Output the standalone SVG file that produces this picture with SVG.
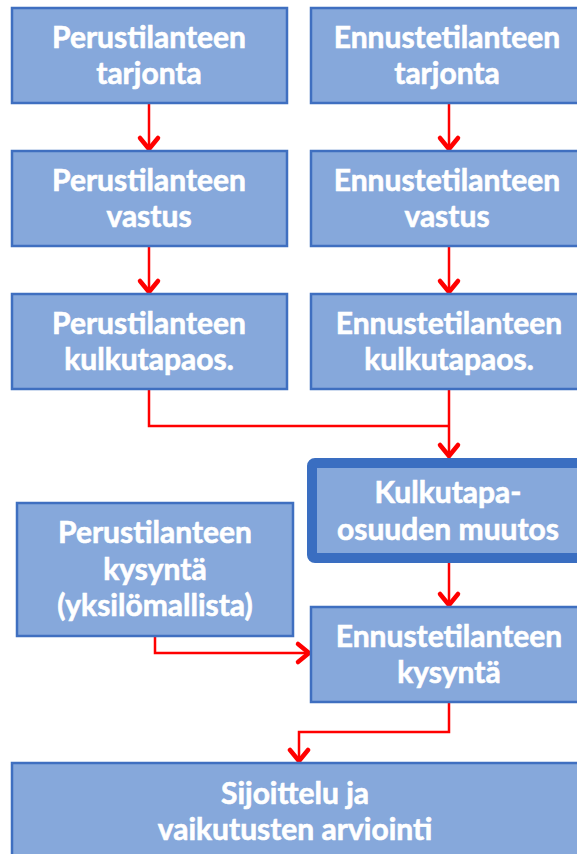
<svg xmlns="http://www.w3.org/2000/svg" width="577" height="854" viewBox="0 0 577 854">
<style>
.box{fill:#86A8DB;stroke:#3F6FC0;stroke-width:2.5}
.thick{fill:#86A8DB;stroke:#3A6EC1;stroke-width:10}
.t{font-family:Lato,"Open Sans","Liberation Sans",sans-serif;font-weight:bold;font-size:30px;fill:#FFFFFF;stroke:#FFFFFF;stroke-width:0.6;text-anchor:middle}
.c{fill:none;stroke:#FF0000;stroke-width:2.5}
</style>
<defs>
<marker id="ah" markerUnits="userSpaceOnUse" markerWidth="30" markerHeight="30" viewBox="-16 -15 20 30" refX="0" refY="0" orient="auto">
<path d="M-13,-9 L-2,0 L-13,9" fill="none" stroke="#FF0000" stroke-width="4.5" stroke-linecap="round" stroke-linejoin="round"/>
</marker>
</defs>
<rect width="577" height="854" fill="#FFFFFF"/>
<g id="connectors">
<path class="c" d="M149,103 V151" marker-end="url(#ah)"/>
<path class="c" d="M449,103 V151" marker-end="url(#ah)"/>
<path class="c" d="M149,246 V294" marker-end="url(#ah)"/>
<path class="c" d="M449,246 V294" marker-end="url(#ah)"/>
<path class="c" d="M149,389 V426 H449"/>
<path class="c" d="M449,389 V458" marker-end="url(#ah)"/>
<path class="c" d="M449,563 V607" marker-end="url(#ah)"/>
<path class="c" d="M155,636 V653 H311" marker-end="url(#ah)"/>
<path class="c" d="M449,702 V732 H299 V763" marker-end="url(#ah)"/>
</g>
<g id="n1"><rect class="box" x="12" y="8" width="275" height="95"/><text class="t" x="149" y="48">Perustilanteen</text><text class="t" x="149" y="84">tarjonta</text></g>
<g id="n2"><rect class="box" x="311" y="8" width="280" height="95"/><text class="t" x="447" y="48">Ennustetilanteen</text><text class="t" x="447" y="84">tarjonta</text></g>
<g id="n3"><rect class="box" x="12" y="151" width="275" height="95"/><text class="t" x="149" y="191">Perustilanteen</text><text class="t" x="149" y="227">vastus</text></g>
<g id="n4"><rect class="box" x="311" y="151" width="280" height="95"/><text class="t" x="447" y="191">Ennustetilanteen</text><text class="t" x="447" y="227">vastus</text></g>
<g id="n5"><rect class="box" x="12" y="294" width="275" height="95"/><text class="t" x="149" y="334">Perustilanteen</text><text class="t" x="149" y="370">kulkutapaos.</text></g>
<g id="n6"><rect class="box" x="311" y="294" width="280" height="95"/><text class="t" x="449" y="334">Ennustetilanteen</text><text class="t" x="449" y="370">kulkutapaos.</text></g>
<g id="n7"><rect class="thick" x="312" y="463" width="290" height="95" rx="3"/><text class="t" x="448" y="503">Kulkutapa-</text><text class="t" x="448" y="540">osuuden muutos</text></g>
<g id="n8"><rect class="box" x="17" y="503" width="276" height="133"/><text class="t" x="155" y="543">Perustilanteen</text><text class="t" x="155" y="580">kysyntä</text><text class="t" x="155" y="616">(yksilömallista)</text></g>
<g id="n9"><rect class="box" x="311" y="607" width="280" height="95"/><text class="t" x="449" y="647">Ennustetilanteen</text><text class="t" x="449" y="683">kysyntä</text></g>
<g id="n10"><rect class="box" x="12" y="763" width="590" height="100"/><text class="t" x="295" y="804">Sijoittelu ja</text><text class="t" x="295" y="840">vaikutusten arviointi</text></g>
</svg>
